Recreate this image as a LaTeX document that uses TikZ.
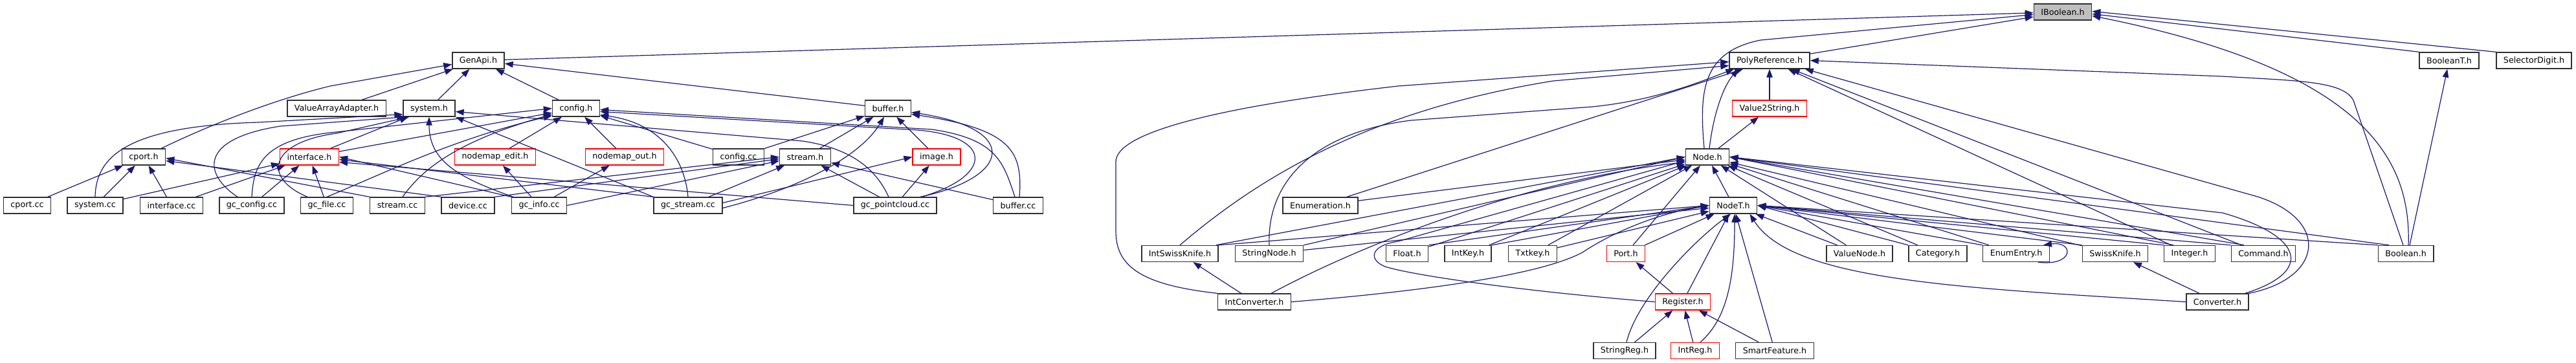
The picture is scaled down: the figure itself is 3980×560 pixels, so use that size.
\documentclass[tikz,border=0pt]{standalone}
\usepackage{fontspec}
\setmainfont{DejaVu Sans}
\usetikzlibrary{arrows.meta}
\definecolor{edgeblue}{HTML}{191970}
\definecolor{boxline}{HTML}{303030}
\definecolor{truncred}{HTML}{FF0000}
\definecolor{rootfill}{HTML}{BFBFBF}
\tikzset{
  hfile/.style={
    draw=boxline, line width=1.4pt, fill=white, inner xsep=11pt, inner ysep=2pt,
    minimum height=25pt, font=\fontsize{12.7}{14}\selectfont},
  trunc/.style={hfile, draw=truncred},
  rootfile/.style={hfile, fill=rootfill},
  incl/.style={draw=edgeblue, line width=1.2pt, -{Triangle[length=13pt,width=9.5pt]}},
}
\begin{document}
\begin{tikzpicture}[x=1pt, y=-1pt]
  \useasboundingbox (0,0) rectangle (3980,560);

  \node[rootfile] (ibool) at (3187,18.5) {IBoolean.h};
  \node[hfile] (genapi) at (739,93.5) {GenApi.h};
  \node[hfile] (polyref) at (2734,93.5) {PolyReference.h};
  \node[hfile] (boolt) at (3784,93.5) {BooleanT.h};
  \node[hfile] (seldig) at (3915,93.5) {SelectorDigit.h};

  \node[hfile] (vaa) at (520,167.5) {ValueArrayAdapter.h};
  \node[hfile] (sysh) at (663,167.5) {system.h};
  \node[hfile] (cfgh) at (890,167.5) {config.h};
  \node[hfile] (bufh) at (1372,167.5) {buffer.h};
  \node[trunc] (v2s) at (2734,167.5) {Value2String.h};

  \node[hfile] (cporth) at (222,242.5) {cport.h};
  \node[trunc] (ifh) at (478,242.5) {interface.h};
  \node[trunc] (nmedit) at (765,242.5) {nodemap\_edit.h};
  \node[trunc] (nmout) at (965,242.5) {nodemap\_out.h};
  \node[hfile] (cfgcc) at (1141,242.5) {config.cc};
  \node[hfile] (streamh) at (1244,242.5) {stream.h};
  \node[trunc] (imgh) at (1447,242.5) {image.h};
  \node[hfile] (nodeh) at (2638,242.5) {Node.h};

  \node[hfile] (cportcc) at (42,317.5) {cport.cc};
  \node[hfile] (syscc) at (147,317.5) {system.cc};
  \node[hfile] (ifcc) at (265,317.5) {interface.cc};
  \node[hfile] (gccfg) at (389,317.5) {gc\_config.cc};
  \node[hfile] (gcfile) at (505,317.5) {gc\_file.cc};
  \node[hfile] (streamcc) at (614,317.5) {stream.cc};
  \node[hfile] (devcc) at (723,317.5) {device.cc};
  \node[hfile] (gcinfo) at (833,317.5) {gc\_info.cc};
  \node[hfile] (gcstream) at (1063,317.5) {gc\_stream.cc};
  \node[hfile] (gcpc) at (1383,317.5) {gc\_pointcloud.cc};
  \node[hfile] (bufcc) at (1573,317.5) {buffer.cc};
  \node[hfile] (enumh) at (2040,317.5) {Enumeration.h};
  \node[hfile] (nodet) at (2678,317.5) {NodeT.h};

  \node[hfile] (iswk) at (1823,392) {IntSwissKnife.h};
  \node[hfile] (strnode) at (1961,392) {StringNode.h};
  \node[hfile] (floath) at (2174,392) {Float.h};
  \node[hfile] (intkey) at (2268,392) {IntKey.h};
  \node[hfile] (txtkey) at (2368,392) {Txtkey.h};
  \node[trunc] (porth) at (2512,392) {Port.h};
  \node[hfile] (valnode) at (2873,392) {ValueNode.h};
  \node[hfile] (cath) at (2994,392) {Category.h};
  \node[hfile] (enumentry) at (3115,392) {EnumEntry.h};
  \node[hfile] (swk) at (3268,392) {SwissKnife.h};
  \node[hfile] (integer) at (3383,392) {Integer.h};
  \node[hfile] (cmdh) at (3497,392) {Command.h};
  \node[hfile] (boolh) at (3717,392) {Boolean.h};

  \node[hfile] (intconv) at (1938,466.5) {IntConverter.h};
  \node[trunc] (regh) at (2600,466.5) {Register.h};
  \node[hfile] (conv) at (3426,466.5) {Converter.h};

  \node[hfile] (strreg) at (2510,542) {StringReg.h};
  \node[trunc] (intreg) at (2619,542) {IntReg.h};
  \node[hfile] (smartf) at (2742,542) {SmartFeature.h};

  \draw[incl] (genapi) -- (ibool);
  \draw[incl] (polyref) -- (ibool);
  \draw[incl] (boolt.north west) -- ([yshift=-3pt]ibool.east);
  \draw[incl] (seldig.north west) -- ([yshift=1pt]ibool.east);
  \draw[incl] ([xshift=-5pt]nodeh.north) .. controls (2625,140) and (2630,80) .. (2720,62) -- ([yshift=-4pt]ibool.west);
  \draw[incl] ([xshift=4pt]boolh.north) .. controls (3725,250) and (3660,110) .. ([yshift=-6pt]ibool.east);
  \draw[incl] ([xshift=6pt]boolh.north) -- (boolt);
  \draw[incl] ([xshift=-4pt]boolh.north) -- (3636,155) .. controls (3620,125) and (3550,125) .. (3434,118) -- (polyref.east);

  \draw[incl] (v2s) -- (polyref);
  \draw[incl] (nodeh) -- (v2s);
  \draw[incl] ([xshift=3pt]nodeh.north) .. controls (2648,170) and (2665,130) .. ([xshift=15pt]polyref.south west);
  \draw[incl] (enumh) -- (polyref);
  \draw[incl] (iswk.north) .. controls (1950,270) and (2120,170) .. (2400,125) -- ([yshift=-8pt]polyref.west);
  \draw[incl] (strnode.north) .. controls (1957,280) and (2030,205) .. (2180,186) -- (2460,165) .. controls (2560,155) and (2630,125) .. ([xshift=8pt]polyref.south west);
  \draw[incl] (intconv.north west) .. controls (1760,440) and (1724,410) .. (1724,357) -- (1724,250) .. controls (1724,205) and (1880,165) .. (2160,133) -- ([yshift=-2pt]polyref.west);
  \draw[incl] (integer) -- (polyref);
  \draw[incl] (cmdh) -- (polyref);
  \draw[incl] (conv.north east) .. controls (3590,430) and (3600,340) .. (3488,304) -- ([xshift=-8pt]polyref.south east);

  \draw[incl] (enumh) -- (nodeh);
  \draw[incl] (nodet) -- (nodeh);
  \draw[incl] ([xshift=-4pt]iswk.north east) -- (nodeh.west);
  \draw[incl] (strnode.north east) -- (nodeh.west);
  \draw[incl] (floath) -- (nodeh);
  \draw[incl] (intkey) -- (nodeh);
  \draw[incl] (txtkey) -- (nodeh);
  \draw[incl] (porth) -- (nodeh);
  \draw[incl] (valnode) -- (nodeh);
  \draw[incl] (cath) -- (nodeh);
  \draw[incl] (enumentry) -- (nodeh);
  \draw[incl] (swk) -- (nodeh);
  \draw[incl] ([xshift=-25pt]integer.north) -- (nodeh.east);
  \draw[incl] ([xshift=-30pt]cmdh.north) -- (nodeh.east);
  \draw[incl] ([xshift=-26pt]boolh.north) -- (nodeh.east);
  \draw[incl] ([xshift=-31pt]intconv.north east) .. controls (2100,380) and (2350,280) .. ([yshift=-8pt]nodeh.west);
  \draw[incl] ([xshift=-6pt]conv.north east) .. controls (3575,420) and (3560,365) .. (3434,329) -- (nodeh.east);
  \draw[incl] (regh.west) .. controls (2350,450) and (2180,425) .. (2140,412) .. controls (2115,402) and (2115,380) .. (2160,373) -- ([yshift=-6pt]nodeh.west);

  \draw[incl] (iswk.north east) -- (nodet.west);
  \draw[incl] (strnode) -- (nodet);
  \draw[incl] (floath.north east) -- (nodet.west);
  \draw[incl] (intkey.north east) -- (nodet.west);
  \draw[incl] (txtkey) -- (nodet);
  \draw[incl] (porth) -- (nodet);
  \draw[incl] (valnode) -- (nodet);
  \draw[incl] (cath.north west) -- (nodet.east);
  \draw[incl] (enumentry.north west) -- (nodet.east);
  \draw[incl] (swk.north west) -- (nodet.east);
  \draw[incl] (integer.north west) -- (nodet.east);
  \draw[incl] (cmdh.north west) -- (nodet.east);
  \draw[incl] (boolh.north west) -- (nodet.east);
  \draw[incl] (intconv.east) .. controls (2200,450) and (2380,425) .. (2445,390) .. controls (2490,360) and (2560,330) .. (nodet.west);
  \draw[incl] (regh) -- (nodet);
  \draw[incl] (conv.west) -- (3240,458) .. controls (2950,440) and (2760,420) .. ([xshift=-12pt]nodet.south east);
  \draw[incl] ([xshift=3pt]strreg.north) .. controls (2530,460) and (2620,370) .. ([xshift=-4pt]nodet.south);
  \draw[incl] ([xshift=8pt]intreg.north) .. controls (2672,490) and (2680,420) .. ([xshift=2pt]nodet.south);
  \draw[incl] (smartf) -- (nodet);

  \draw[incl] ([xshift=-18pt]enumentry.south east) .. controls (3205,412) and (3205,372) .. ([xshift=-10pt]enumentry.north east);
  \draw[incl] (intconv) -- (iswk);
  \draw[incl] (conv) -- (swk);
  \draw[incl] (regh) -- (porth);
  \draw[incl] (strreg) -- (regh);
  \draw[incl] (intreg) -- (regh);
  \draw[incl] (smartf) -- (regh);

  \draw[incl] (vaa) -- (genapi);
  \draw[incl] (sysh) -- (genapi);
  \draw[incl] (cfgh) -- (genapi);
  \draw[incl] (bufh) -- (genapi);
  \draw[incl] ([xshift=-7pt]cporth.north east) .. controls (320,195) and (420,155) .. (510,133) -- ([yshift=-6pt]genapi.west);

  \draw[incl] (cportcc) -- (cporth);
  \draw[incl] (syscc) -- (cporth);
  \draw[incl] (ifcc) -- (cporth);
  \draw[incl] (streamcc.north west) -- ([yshift=-2pt]cporth.east);
  \draw[incl] (devcc.north west) -- ([yshift=-6pt]cporth.east);

  \draw[incl] (syscc) -- (ifh);
  \draw[incl] (ifcc) -- (ifh);
  \draw[incl] (gccfg) -- (ifh);
  \draw[incl] (gcfile) -- (ifh);
  \draw[incl] (gcinfo.north west) -- (ifh.east);
  \draw[incl] (gcstream.north west) -- ([yshift=-4pt]ifh.east);
  \draw[incl] (gcpc.west) -- ([yshift=-8pt]ifh.east);

  \draw[incl] (ifh) -- (sysh);
  \draw[incl] (syscc.north) .. controls (148,240) and (200,195) .. (400,189) -- ([yshift=4pt]sysh.south west);
  \draw[incl] ([xshift=-22pt]gccfg.north) .. controls (315,270) and (305,215) .. (433,195) -- ([xshift=4pt]sysh.south west);
  \draw[incl] ([xshift=-30pt]gcfile.north) .. controls (405,275) and (415,220) .. (520,206) -- ([xshift=10pt]sysh.south west);
  \draw[incl] ([xshift=3pt]gcinfo.north west) .. controls (710,275) and (663,250) .. (sysh.south);
  \draw[incl] (gcstream.north west) -- (sysh.south east);
  \draw[incl] ([xshift=-10pt]gcpc.north) .. controls (1355,265) and (1320,230) .. (1240,218) -- ([yshift=-5pt]sysh.east);

  \draw[incl] (ifh) -- (cfgh);
  \draw[incl] (nmedit) -- (cfgh);
  \draw[incl] (nmout) -- (cfgh);
  \draw[incl] (cfgcc) -- (cfgh);
  \draw[incl] (gccfg.north) .. controls (392,255) and (405,215) .. (520,204) -- (cfgh.west);
  \draw[incl] (gcfile.north) .. controls (600,265) and (700,215) .. ([yshift=2pt]cfgh.south west);
  \draw[incl] ([xshift=8pt]streamcc.north) .. controls (650,265) and (700,220) .. ([yshift=4pt]cfgh.south west);
  \draw[incl] (gcstream.north) .. controls (1058,245) and (1020,190) .. ([yshift=3pt]cfgh.south east);
  \draw[incl] ([xshift=-24pt]gcpc.north east) .. controls (1540,270) and (1535,205) .. (1400,200) -- ([yshift=-5pt]cfgh.east);
  \draw[incl] ([xshift=-5pt]bufcc.north) .. controls (1550,250) and (1540,215) .. (1440,200) -- ([yshift=-2pt]cfgh.east);

  \draw[incl] (cfgcc) -- (bufh);
  \draw[incl] (streamh) -- (bufh);
  \draw[incl] (imgh) -- (bufh);
  \draw[incl] ([yshift=-4pt]gcstream.east) .. controls (1240,290) and (1330,240) .. ([xshift=-6pt]bufh.south);
  \draw[incl] ([xshift=-26pt]gcpc.north east) .. controls (1560,275) and (1580,200) .. ([yshift=-6pt]bufh.east);
  \draw[incl] ([xshift=2pt]bufcc.north) .. controls (1580,235) and (1565,200) .. ([yshift=-9pt]bufh.east);

  \draw[incl] (streamcc.north east) -- (streamh.west);
  \draw[incl] (devcc.north east) -- ([yshift=-3pt]streamh.west);
  \draw[incl] (gcinfo.east) -- ([yshift=-6pt]streamh.west);
  \draw[incl] (gcstream) -- (streamh);
  \draw[incl] (gcpc) -- (streamh);
  \draw[incl] (bufcc) -- (streamh);

  \draw[incl] ([yshift=4pt]gcstream.east) -- (imgh.west);
  \draw[incl] (gcpc) -- (imgh);
  \draw[incl] (gcinfo) -- (nmedit);
  \draw[incl] (gcinfo) -- (nmout);

\end{tikzpicture}
\end{document}
